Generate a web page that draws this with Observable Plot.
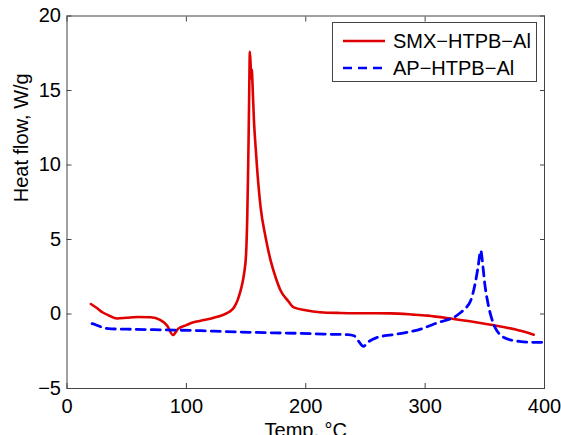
<!DOCTYPE html>
<html>
<head>
<meta charset="utf-8">
<script src="https://cdn.jsdelivr.net/npm/d3@7"></script>
<script src="https://cdn.jsdelivr.net/npm/@observablehq/plot@0.6"></script>
<style>
  html, body { margin: 0; padding: 0; background: #fff; }
  #wrap { position: relative; width: 561px; height: 435px; overflow: hidden; font-family: "Liberation Sans", Arial, Helvetica, sans-serif; }
  #legend { position: absolute; left: 332px; top: 22px; width: 205px; height: 60px; border: 1px solid #444; background: #fff; box-sizing: border-box; }
  #legend .row { position: absolute; left: 0; height: 24px; width: 100%; }
  #legend svg { position: absolute; left: 9px; top: 0; }
  #legend span { position: absolute; left: 60px; top: 0; font-size: 20px; line-height: 24px; white-space: nowrap; color: #000; }
</style>
</head>
<body>
<div id="wrap"></div>
<script>
// ---- data ----
const seriesNames = ["SMX−HTPB−Al", "AP−HTPB−Al"];
const seriesColors = ["#e00000", "#0000ff"];

const smxTemp = [20, 25, 30, 35, 42, 50, 59, 70, 78, 84, 88.7, 93, 100, 106, 112, 123, 130, 136, 140, 143, 145, 147, 148.5, 150, 151, 151.8, 152.5, 153.2, 153.8, 154.3, 154.8, 155.6, 156.6, 158, 159.4, 162.2, 166.4, 170.6, 175, 179, 185, 190, 200, 212, 229, 250, 271, 290, 302, 324, 340, 355, 375, 391];
const smxHeat = [0.67, 0.4, 0.1, -0.1, -0.3, -0.25, -0.2, -0.22, -0.4, -0.8, -1.41, -1.0, -0.75, -0.56, -0.45, -0.25, -0.08, 0.15, 0.45, 0.95, 1.45, 2.1, 2.8, 4, 6.5, 10, 14, 17.6, 16.8, 15.8, 16.4, 15.0, 13, 11.2, 9.6, 7.15, 5.14, 3.58, 2.4, 1.56, 0.9, 0.44, 0.25, 0.12, 0.07, 0.05, 0.04, -0.04, -0.11, -0.34, -0.52, -0.72, -1.03, -1.39];

const apTemp = [21, 24, 28, 32, 37, 50, 70, 90, 112, 130, 153.8, 175, 195.7, 215, 235, 240.4, 244, 248.3, 252, 260, 272, 285, 297, 307.5, 316, 324, 329.8, 334, 338.2, 341.8, 344.3, 346.6, 348.5, 350, 352.2, 355, 357, 359.2, 363, 368, 372, 380, 391, 400];
const apHeat = [-0.65, -0.72, -0.85, -0.95, -1.0, -1.02, -1.05, -1.08, -1.12, -1.17, -1.23, -1.27, -1.3, -1.35, -1.39, -1.46, -1.8, -2.17, -1.9, -1.57, -1.4, -1.23, -1.0, -0.67, -0.45, -0.23, 0.1, 0.4, 0.9, 2.0, 3.13, 4.25, 3.13, 2.0, 0.9, -0.1, -0.6, -1.0, -1.4, -1.65, -1.75, -1.85, -1.9, -1.9];

const xTicks = [0, 100, 200, 300, 400];
const yTicks = [-5, 0, 5, 10, 15, 20];
const xLabel = "Temp, °C";
const yLabel = "Heat flow, W/g";

const smx = smxTemp.map((t, i) => ({t, h: smxHeat[i]}));
const ap = apTemp.map((t, i) => ({t, h: apHeat[i]}));

const axisColor = "#444";
const chart = Plot.plot({
  width: 561,
  height: 435,
  marginLeft: 66.5,
  marginRight: 17,
  marginTop: 15.5,
  marginBottom: 47,
  style: {fontFamily: "'Liberation Sans', Arial, Helvetica, sans-serif", fontSize: "20px", background: "#fff", color: "#000", overflow: "visible"},
  x: {domain: [0, 400]},
  y: {domain: [-5, 20]},
  marks: [
    Plot.axisX({ticks: xTicks, tickSize: 0, tickPadding: 10, label: null, fontSize: 20}),
    Plot.axisY({ticks: yTicks, tickSize: 0, tickPadding: 6, label: null, fontSize: 20, tickFormat: d => d < 0 ? "\u2212" + Math.abs(d) : String(d)}),
    Plot.axisX({ticks: xTicks, anchor: "bottom", tickSize: -5, tickFormat: () => "", label: null, stroke: axisColor}),
    Plot.axisX({ticks: xTicks, anchor: "top", tickSize: -5, tickFormat: () => "", label: null, stroke: axisColor}),
    Plot.axisY({ticks: yTicks, anchor: "left", tickSize: -5, tickFormat: () => "", label: null, stroke: axisColor}),
    Plot.axisY({ticks: yTicks, anchor: "right", tickSize: -5, tickFormat: () => "", label: null, stroke: axisColor}),
    Plot.line(smx, {x: "t", y: "h", stroke: seriesColors[0], strokeWidth: 2.6, curve: "monotone-x"}),
    Plot.line(ap, {x: "t", y: "h", stroke: seriesColors[1], strokeWidth: 2.8, strokeDasharray: "9,6", curve: "monotone-x"}),
    Plot.frame({stroke: axisColor, strokeWidth: 1}),
    Plot.text([xLabel], {text: d => d, frameAnchor: "bottom", dy: 34, lineAnchor: "top", fontSize: 20, fill: "#000"}),
    Plot.text([yLabel], {text: d => d, frameAnchor: "left", dx: -53, rotate: -90, lineAnchor: "top", fontSize: 20, fill: "#000"})
  ]
});

const wrap = document.getElementById("wrap");
wrap.appendChild(chart);

// legend overlay
const legend = document.createElement("div");
legend.id = "legend";
const rowTops = [5.5, 32.5];
seriesNames.forEach((name, i) => {
  const row = document.createElement("div");
  row.className = "row";
  row.style.top = rowTops[i] + "px";
  const ns = "http://www.w3.org/2000/svg";
  const s = document.createElementNS(ns, "svg");
  s.setAttribute("width", "44"); s.setAttribute("height", "24");
  const l = document.createElementNS(ns, "line");
  l.setAttribute("x1", "1"); l.setAttribute("x2", "43");
  l.setAttribute("y1", "12"); l.setAttribute("y2", "12");
  l.setAttribute("stroke", seriesColors[i]);
  l.setAttribute("stroke-width", "2.6");
  if (i === 1) l.setAttribute("stroke-dasharray", "9,6");
  s.appendChild(l);
  row.appendChild(s);
  const sp = document.createElement("span");
  sp.textContent = name;
  row.appendChild(sp);
  legend.appendChild(row);
});
wrap.appendChild(legend);
</script>
</body>
</html>
